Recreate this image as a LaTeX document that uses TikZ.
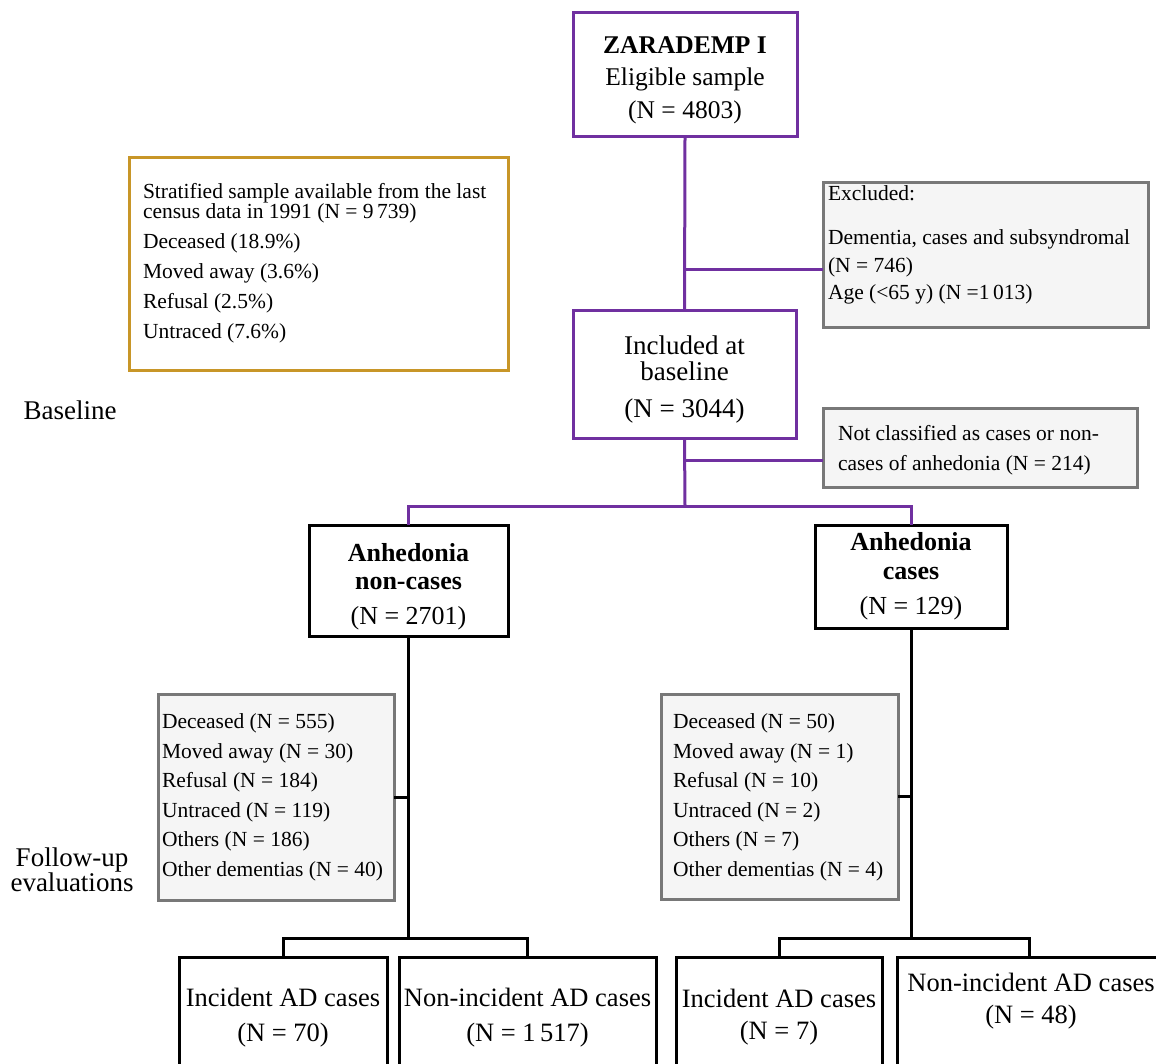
\documentclass[tikz,border=0pt]{standalone}
\usepackage{fontspec}
\setmainfont{Liberation Serif}
\definecolor{purp}{RGB}{112,48,160}
\definecolor{gold}{RGB}{200,150,40}
\definecolor{gbord}{RGB}{120,120,120}
\definecolor{gfill}{RGB}{245,245,245}
\begin{document}
\begin{tikzpicture}[x=1pt,y=-1pt,
  every node/.style={inner sep=0pt,outer sep=0pt},
  pline/.style={draw=purp,line width=3pt},
  kline/.style={draw=black,line width=3pt},
  pbox/.style={draw=purp,line width=3pt,align=center},
  kbox/.style={draw=black,line width=3pt,align=center},
  gbox/.style={draw=gbord,fill=gfill,line width=3pt},
  obox/.style={draw=gold,line width=3pt},
  small/.style={font=\fontsize{21.5}{29.5}\selectfont,align=left,anchor=west},
  big/.style={font=\fontsize{27}{30}\selectfont},
  bt/.style={font=\fontsize{26.5}{35}\selectfont,align=center},
]
\useasboundingbox (0,0) rectangle (1156,1064);

% top box
\node[pbox,minimum width=224pt,minimum height=124pt,font=\fontsize{25.5}{32.5}\selectfont] (top) at (685,75)
  {\rule{0pt}{27pt}{\bfseries ZARADEMP I}\\Eligible sample\\(N = 4803)};

% census box
\node[obox,minimum width=379pt,minimum height=212pt] (cens) at (318.5,264) {};
\node[small,font=\fontsize{21.5}{30}\selectfont] (censt) at (143,263)
  {Stratified sample available from the last\\[-10pt]census data in 1991 (N = 9\,739)\\Deceased (18.9\%)\\Moved away (3.6\%)\\Refusal (2.5\%)\\Untraced (7.6\%)};

% excluded box
\node[gbox,minimum width=325pt,minimum height=145pt] (excl) at (985.5,255.5) {};
\node[small,font=\fontsize{21.5}{27.5}\selectfont] (exclt) at (828,245)
  {Excluded:\\[17pt]Dementia, cases and subsyndromal\\(N = 746)\\Age (<65 y) (N =1\,013)};

% included box
\node[pbox,minimum width=223pt,minimum height=127pt,font=\fontsize{27}{26}\selectfont] (incl) at (684.5,374.5)
  {\rule{0pt}{29pt}Included at\\baseline\\[11pt](N = 3044)};

% not classified box
\node[gbox,minimum width=314pt,minimum height=79pt] (notc) at (980,447.5) {};
\node[small,font=\fontsize{21.5}{30}\selectfont] (notct) at (838,450)
  {Not classified as cases or non-\\cases of anhedonia (N = 214)};

% anhedonia boxes
\node[kbox,minimum width=199pt,minimum height=111pt,font=\fontsize{26}{28}\selectfont] (anc) at (408.5,580.5)
  {\rule{0pt}{30pt}\textbf{Anhedonia}\\\textbf{non-cases}\\[7pt](N = 2701)};
\node[kbox,minimum width=192pt,minimum height=103pt,font=\fontsize{26}{29}\selectfont] (ac) at (911,576.5)
  {\textbf{Anhedonia}\\\textbf{cases}\\[6pt](N = 129)};

% follow-up loss boxes
\node[gbox,minimum width=236pt,minimum height=206pt] (gl) at (276,797) {};
\node[small] (glt) at (162,797.5)
  {Deceased (N = 555)\\Moved away (N = 30)\\Refusal (N = 184)\\Untraced (N = 119)\\Others (N = 186)\\Other dementias (N = 40)};
\node[gbox,minimum width=237pt,minimum height=205pt] (gr) at (779.5,796.5) {};
\node[small] (grt) at (673,797.5)
  {Deceased (N = 50)\\Moved away (N = 1)\\Refusal (N = 10)\\Untraced (N = 2)\\Others (N = 7)\\Other dementias (N = 4)};

% side labels
\node[big] (lbase) at (70,410) {Baseline};
\node[big,align=center,font=\fontsize{27}{25}\selectfont] (lfu) at (72,870) {Follow-up\\evaluations};

% bottom boxes (cut by the page edge)
\begin{scope}
\clip (0,0) rectangle (1156,1064);
\node[kbox,anchor=north,minimum width=208pt,minimum height=150pt] (b1) at (283,957) {};
\node[kbox,anchor=north,minimum width=257pt,minimum height=150pt] (b2) at (527.5,957) {};
\node[kbox,anchor=north,minimum width=206pt,minimum height=150pt] (b3) at (779,957) {};
\node[kbox,anchor=north,minimum width=264pt,minimum height=150pt] (b4) at (1029,957) {};
\end{scope}
\node[bt] (b1t) at (283,1017.5) {Incident AD cases\\(N = 70)};
\node[bt] (b2t) at (527.5,1017.5) {Non-incident AD cases\\(N = 1\,517)};
\node[bt,font=\fontsize{26.5}{32}\selectfont] (b3t) at (779,1017) {Incident AD cases\\(N = 7)};
\node[bt,font=\fontsize{26.5}{32}\selectfont] (b4t) at (1031,1001) {Non-incident AD cases\\(N = 48)};

% junction coordinates
\coordinate (j1) at (685,270);
\coordinate (j2) at (685,460);
\coordinate (j3) at (685,506);
\coordinate (row4) at (0,938);
\coordinate (j4) at (anc.south |- row4);
\coordinate (j5) at (ac.south |- row4);

% connectors
\draw[pline] (top.south) -- (incl.north);
\draw[pline] (j1) -- (j1 -| excl.west);
\draw[pline] (incl.south) -- (j3);
\draw[pline] (j2) -- (j2 -| notc.west);
\draw[pline] (anc.north) |- (j3) -| (ac.north);

\draw[kline] (anc.south) -- (j4);
\draw[kline] (b1.north) |- (j4) -| (b2.north);
\draw[kline] (gl.east) -- (gl.east -| j4);
\draw[kline] (ac.south) -- (j5);
\draw[kline] (b3.north) |- (j5) -| (b4.north);
\draw[kline] (gr.east) -- (gr.east -| j5);
\end{tikzpicture}
\end{document}
